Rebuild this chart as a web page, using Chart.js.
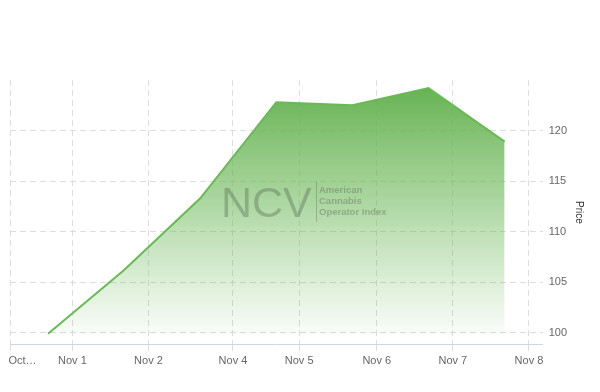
<!DOCTYPE html>
<html>
<head>
<meta charset="utf-8">
<script src="https://cdn.jsdelivr.net/npm/chart.js@4"></script>
<style>
  html, body { margin: 0; padding: 0; background: #fff; }
  #wrap { width: 600px; height: 392px; }
</style>
</head>
<body>
<div id="wrap"><canvas id="myChart"></canvas></div>
<script>
const prices = [99.9, 106.2, 113.3, 122.8, 122.5, 124.2, 118.9];
const xTickPos = [-0.5, 0.32, 1.32, 2.43, 3.3, 4.32, 5.32, 6.32];
const xTickLabels = ['Oct…', 'Nov 1', 'Nov 2', 'Nov 4', 'Nov 5', 'Nov 6', 'Nov 7', 'Nov 8'];
const yTicks = [100, 105, 110, 115, 120];

const ctx = document.getElementById('myChart').getContext('2d');

const gridColor = '#dcdcdc';
const labelColor = '#666';

// watermark in the middle of the plot
const watermark = {
    id: 'watermark',
    afterDatasetsDraw(chart) {
        const c = chart.ctx;
        c.save();
        c.fillStyle = 'rgba(70,85,70,0.33)';
        c.font = '43px "Liberation Sans", Arial, sans-serif';
        c.textBaseline = 'alphabetic';
        c.fillText('NCV', 221, 217);
        c.strokeStyle = 'rgba(90,100,90,0.35)';
        c.lineWidth = 1;
        c.beginPath();
        c.moveTo(316.5, 181);
        c.lineTo(316.5, 222);
        c.stroke();
        c.fillStyle = 'rgba(90,100,90,0.42)';
        c.font = 'bold 9.5px "Liberation Sans", Arial, sans-serif';
        c.fillText('American', 319, 193);
        c.fillText('Cannabis', 319, 204);
        c.fillText('Operator Index', 319, 215);
        c.restore();
    }
};

const chart = new Chart(ctx, {
    type: 'line',
    data: {
        datasets: [{
            label: 'Price',
            data: prices.map((v, i) => ({ x: i, y: v })),
            borderColor: '#69b957',
            borderWidth: 2,
            pointRadius: 0,
            tension: 0,
            fill: { value: 99.9 },
            backgroundColor: (context) => {
                const area = context.chart.chartArea;
                if (!area) return 'rgba(100,180,80,0.5)';
                const g = context.chart.ctx.createLinearGradient(0, area.top, 0, area.bottom - 10);
                g.addColorStop(0, 'rgba(98,176,78,1)');
                g.addColorStop(0.5, 'rgba(110,185,90,0.55)');
                g.addColorStop(1, 'rgba(120,190,100,0.04)');
                return g;
            }
        }]
    },
    options: {
        responsive: true,
        maintainAspectRatio: false,
        animation: false,
        layout: { padding: { top: 80, left: 10, right: 6, bottom: 20 } },
        plugins: {
            legend: { display: false },
            tooltip: { enabled: false }
        },
        scales: {
            x: {
                type: 'linear',
                min: -0.5,
                max: 6.5,
                afterBuildTicks: (scale) => {
                    scale.ticks = xTickPos.map(v => ({ value: v }));
                },
                afterFit: (scale) => {
                    scale.paddingLeft = 0;
                    scale.paddingRight = 0;
                },
                ticks: {
                    autoSkip: false,
                    maxRotation: 0,
                    color: labelColor,
                    font: { family: '"Liberation Sans", Arial, sans-serif', size: 11 },
                    padding: 4,
                    callback: (v, i) => i === 0 ? '\u2003\u2003 ' + xTickLabels[i] : xTickLabels[i]
                },
                grid: {
                    color: gridColor,
                    tickLength: 6,
                    lineWidth: 1
                },
                border: { display: true, color: '#ccd6eb', dash: [6, 4] }
            },
            y: {
                position: 'right',
                min: 98.8,
                max: 125,
                afterBuildTicks: (scale) => {
                    scale.ticks = yTicks.map(v => ({ value: v }));
                },
                ticks: {
                    color: labelColor,
                    font: { family: '"Liberation Sans", Arial, sans-serif', size: 11 },
                    padding: 6
                },
                grid: {
                    color: gridColor,
                    drawTicks: false
                },
                border: { display: false, dash: [6, 4] },
                title: {
                    display: true,
                    text: 'Price',
                    color: '#333',
                    font: { family: '"Liberation Sans", Arial, sans-serif', size: 10 },
                    padding: { top: 9, bottom: 0 }
                }
            }
        }
    },
    plugins: [watermark]
});
</script>
</body>
</html>
